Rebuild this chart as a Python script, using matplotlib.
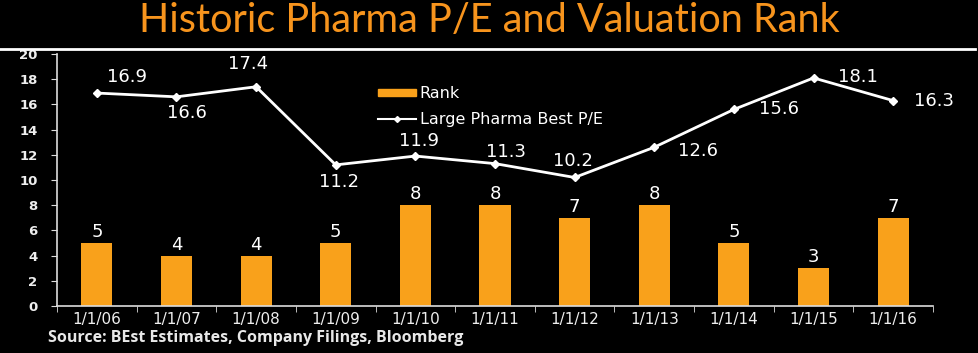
import numpy as np
import matplotlib.pyplot as plt
import matplotlib as mpl
from matplotlib.lines import Line2D
from matplotlib.patches import Patch

dates = ['1/1/06', '1/1/07', '1/1/08', '1/1/09', '1/1/10', '1/1/11',
         '1/1/12', '1/1/13', '1/1/14', '1/1/15', '1/1/16']
rank = [5, 4, 4, 5, 8, 8, 7, 8, 5, 3, 7]
pe = [16.9, 16.6, 17.4, 11.2, 11.9, 11.3, 10.2, 12.6, 15.6, 18.1, 16.3]
# label offsets in pixels (dx, dy) for the P/E values
pe_off = [(30, 16), (10, -16), (-8, 23), (3, -17), (4, 15), (11, 12),
          (-2, 16), (44, -4), (45, 0), (44, 1), (41, 0)]

orange = '#F9A11B'
mpl.rcParams['font.family'] = 'DejaVu Sans'

fig = plt.figure(figsize=(9.79, 3.53), dpi=100, facecolor='black')
ax = fig.add_axes([57/979, 1-306/353, (933-57)/979, (306-54)/353])
ax.set_facecolor('black')

x = np.arange(len(dates))
ax.bar(x, rank, width=0.39, color=orange, zorder=2, label='Rank')
for xi, v in zip(x, rank):
    ax.annotate(str(v), (xi, v), xytext=(0, 11), textcoords='offset pixels',
                ha='center', va='center', color='white', fontsize=13)

ax.plot(x, pe, color='white', lw=2, marker='D', ms=4, zorder=3)
for xi, v, (dx, dy) in zip(x, pe, pe_off):
    ax.annotate(f'{v:.1f}', (xi, v), xytext=(dx, dy), textcoords='offset pixels',
                ha='center', va='center', color='white', fontsize=13)

ax.set_xlim(-0.5, len(dates) - 0.5)
ax.set_ylim(0, 20)
ax.set_yticks(np.arange(0, 21, 2))
ax.set_xticks(x)
ax.set_xticklabels(dates)
ax.set_xticks(np.arange(-0.5, len(dates)), minor=True)
ax.tick_params(axis='x', which='major', length=0, pad=4, colors='#eeeeee',
               labelsize=11)
ax.tick_params(axis='x', which='minor', length=4, color='#dddddd', direction='out')
ax.tick_params(axis='y', length=4, color='#dddddd', colors='#eeeeee',
               labelsize=9.5, pad=10)
for lab in ax.get_yticklabels():
    lab.set_fontweight('bold')
for s in ['top', 'right']:
    ax.spines[s].set_visible(False)
for s in ['left', 'bottom']:
    ax.spines[s].set_color('#dddddd')
    ax.spines[s].set_linewidth(1.2)

handles = [Patch(color=orange, label='Rank'),
           Line2D([0], [0], color='white', lw=1.5, marker='D', ms=3,
                  label='Large Pharma Best P/E')]
leg = ax.legend(handles=handles, loc='upper left', bbox_to_anchor=(0.350, 0.93),
                frameon=False, fontsize=11.5, labelcolor='white',
                handlelength=2.4, handleheight=0.35, handletextpad=0.2,
                labelspacing=0.7)

fig.text(0.5, 1-21/353, 'Historic Pharma P/E and Valuation Rank', color='#F7941D',
         fontsize=28.5, ha='center', va='center', family='Lato')
fig.add_artist(Line2D([0, 975/979], [1-49/353, 1-49/353], color='white', lw=2))
fig.text(48/979, 1-338/353, 'Source: BEst Estimates, Company Filings, Bloomberg',
         color='#e8e8e8', fontsize=11.5, fontweight='bold', family='Open Sans',
         ha='left', va='center')

fig.savefig('out.png', dpi=100, facecolor='black')
